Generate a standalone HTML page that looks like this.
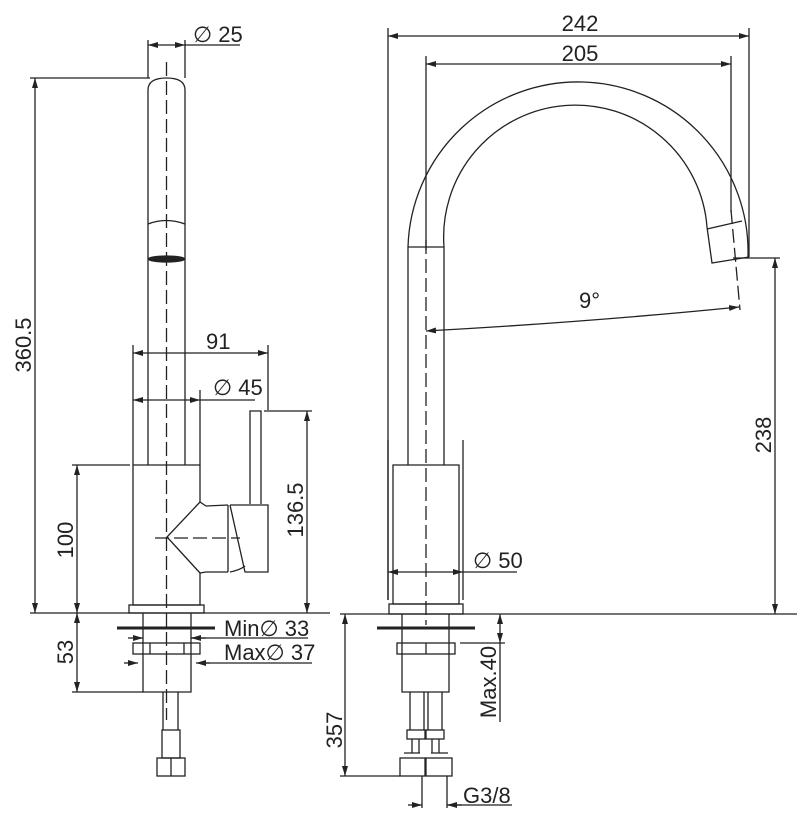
<!DOCTYPE html><html><head><style>body{margin:0;background:#fff}svg{display:block}text{font-family:"Liberation Sans",sans-serif;fill:#222;font-size:22px}</style></head><body>
<svg width="797" height="827" viewBox="0 0 797 827" xmlns="http://www.w3.org/2000/svg">
<defs><marker id="a" viewBox="0 0 10 6" refX="10" refY="3" markerWidth="10" markerHeight="6" orient="auto-start-reverse" markerUnits="userSpaceOnUse"><path d="M0,0L10,3L0,6z" fill="#222"/></marker></defs>
<g fill="none" stroke="#222" stroke-width="1.3">
<!-- LEFT VIEW -->
<path d="M148,465V90Q148,78 166.5,78Q185,78 185,90V465"/>
<path d="M148,224Q166,217 185,224"/>
<ellipse cx="166.5" cy="259" rx="18" ry="3" fill="#222"/>
<path d="M166.5,62V720" stroke-dasharray="14,5"/>
<path d="M155,538H240" stroke-dasharray="14,5"/>
<path d="M200,502V465H133V605H200V573"/>
<path d="M200,502L167,537L200,573M200,502L206,506L228,505M200,573L206,572L228,572"/>
<path d="M228,505V572M230,505H268V572H245L230,505M230,572Q240,570 245,566"/>
<path d="M250,504V411H261V504"/>
<rect x="129" y="605" width="75" height="8"/>
<path d="M143,613V692H191V613"/>
<path d="M117,628H215" stroke-width="3"/>
<rect x="133" y="643" width="67" height="11"/>
<path d="M150,643V654M184,643V654"/>
<path d="M163,692V730M178,692V730"/>
<rect x="162" y="730" width="18" height="28"/>
<rect x="157" y="758" width="28" height="18"/>
<path d="M171,758V776"/>
<!-- left dims -->
<path d="M148,40V78M185,40V78"/>
<path d="M148,45H185" marker-start="url(#a)" marker-end="url(#a)"/><path d="M185,45H240"/>
<path d="M30,78H150"/>
<path d="M35,78V613" marker-start="url(#a)" marker-end="url(#a)"/>
<path d="M30,613H330"/>
<path d="M133,345V465M268,345V410"/>
<path d="M133,353H268" marker-start="url(#a)" marker-end="url(#a)"/>
<path d="M200,390V465"/>
<path d="M133,400H200" marker-start="url(#a)" marker-end="url(#a)"/><path d="M200,400H255"/>
<path d="M72,465H130"/>
<path d="M77,465V613" marker-start="url(#a)" marker-end="url(#a)"/>
<path d="M264,411H312"/>
<path d="M307,411V613" marker-start="url(#a)" marker-end="url(#a)"/>
<path d="M72,692H143"/>
<path d="M77,613V692" marker-start="url(#a)" marker-end="url(#a)"/>
<path d="M191,638H308"/><path d="M128,638H143" marker-end="url(#a)"/><path d="M206,638H191" marker-end="url(#a)"/>
<path d="M200,663H312"/><path d="M124,663H138" marker-end="url(#a)"/><path d="M210,663H196" marker-end="url(#a)"/>
<!-- RIGHT VIEW -->
<path d="M408,465V247A170,170 0 0 1 748,257"/>
<path d="M444,465V247A131,131 0 0 1 707,227"/>
<path d="M408,247H444"/>
<path d="M707,227L712,263L749,257M707,229L742,221"/>
<path d="M426,240V625" stroke-dasharray="14,5"/>
<path d="M731,210L740,310" stroke-dasharray="14,5"/>
<path d="M393,465H459V604H393Z"/>
<path d="M388,440V600M463,440V600"/>
<path d="M388,572H463" marker-start="url(#a)" marker-end="url(#a)"/><path d="M463,572H517"/>
<rect x="389" y="604" width="74" height="10"/>
<path d="M340,614H797"/>
<path d="M377,628H475" stroke-width="3"/>
<path d="M402,614V692H449V614"/>
<rect x="397" y="643" width="58" height="11"/><path d="M426,643V654"/>
<path d="M410,692V730M424,692V730M428,692V730M442,692V730"/>
<rect x="407" y="730" width="18" height="9"/><rect x="426" y="730" width="18" height="9"/>
<path d="M412,739V753M419,739V753M432,739V753M439,739V753"/>
<rect x="400" y="758" width="25" height="18"/><rect x="426" y="758" width="26" height="18"/>
<path d="M404,753H420M431,753H448"/>
<!-- right dims -->
<path d="M388,28V600M749,28V257M426,56V250M731,56V212"/>
<path d="M388,36H749" marker-start="url(#a)" marker-end="url(#a)"/>
<path d="M426,64H731" marker-start="url(#a)" marker-end="url(#a)"/>
<path d="M426,331Q590,322 739,307" marker-start="url(#a)" marker-end="url(#a)"/>
<path d="M733,258H780"/>
<path d="M775,258V614" marker-start="url(#a)" marker-end="url(#a)"/>
<path d="M340,776H400"/>
<path d="M345,614V776" marker-start="url(#a)" marker-end="url(#a)"/>
<path d="M460,643H505"/>
<path d="M500,614V643" marker-start="url(#a)" marker-end="url(#a)"/><path d="M500,643V722"/>
<path d="M422,776V808M447,776V808"/>
<path d="M408,805H422" marker-end="url(#a)"/><path d="M462,805H447" marker-end="url(#a)"/><path d="M447,805H512"/>
</g>
<text x="193" y="42">∅ 25</text>
<text x="206" y="349">91</text>
<text x="213" y="395">∅ 45</text>
<text x="224" y="636">Min∅ 33</text>
<text x="224" y="660">Max∅ 37</text>
<text transform="translate(31,345) rotate(-90)" text-anchor="middle">360.5</text>
<text transform="translate(73,540) rotate(-90)" text-anchor="middle">100</text>
<text transform="translate(73,652) rotate(-90)" text-anchor="middle">53</text>
<text transform="translate(303,510) rotate(-90)" text-anchor="middle">136.5</text>
<text x="580" y="31" text-anchor="middle">242</text>
<text x="580" y="61" text-anchor="middle">205</text>
<text x="579" y="308">9°</text>
<text x="473" y="568">∅ 50</text>
<text transform="translate(771,435) rotate(-90)" text-anchor="middle">238</text>
<text transform="translate(342,730) rotate(-90)" text-anchor="middle">357</text>
<text transform="translate(496,682) rotate(-90)" text-anchor="middle">Max.40</text>
<text x="463" y="803">G3/8</text>
</svg></body></html>
